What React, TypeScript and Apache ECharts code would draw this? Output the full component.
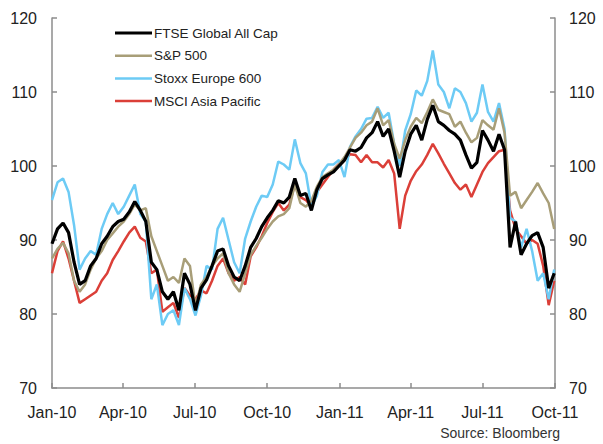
import React, { useEffect, useRef } from "react";
import * as echarts from "echarts";

const START = Date.UTC(2010, 0, 1);
const DAY = 86400000;

const tickLabels = ["Jan-10", "Apr-10", "Jul-10", "Oct-10", "Jan-11", "Apr-11", "Jul-11", "Oct-11"];
const tickDates = [
  Date.UTC(2010, 0, 1), Date.UTC(2010, 3, 1), Date.UTC(2010, 6, 1), Date.UTC(2010, 9, 1),
  Date.UTC(2011, 0, 1), Date.UTC(2011, 3, 1), Date.UTC(2011, 6, 1), Date.UTC(2011, 9, 1),
];
const tickDays = tickDates.map((t) => Math.round((t - START) / DAY));

const seriesNames = ["FTSE Global All Cap", "S&P 500", "Stoxx Europe 600", "MSCI Asia Pacific"];

const ftse = [
  89.5, 91.5, 92.3, 91, 87, 84, 84.5, 86.5, 87.5, 89.5,
  90.5, 91.8, 92.5, 92.8, 93.8, 95.2, 94, 92.5, 87, 86,
  83, 82, 83, 80.5, 85.5, 84, 80.5, 83.5, 84.6, 86.5,
  88.5, 88.8, 86.5, 85, 84.5, 86.5, 89, 90.2, 91.8, 93,
  94, 95.3, 95, 95.8, 98.3, 96, 96.3, 94, 96.8, 98.3,
  98.8, 99.2, 100, 100.8, 102.2, 102, 102.5, 103.8, 104.5, 106,
  104, 105, 102, 98.5, 102, 104.3, 105.5, 103.5, 106.3, 108.2,
  106, 105.5, 104.8, 104.3, 103.5, 101.5, 99.7, 100.5, 104.8, 103.5,
  102, 104.3, 102.2, 89, 92.5, 88, 89.5, 90.6, 91, 89,
  83.5, 85.5,
];

const sp500 = [
  87.5, 88.8, 89.6, 88.2, 84.5, 83, 84, 86, 87.5, 88.5,
  90, 90.9, 91.8, 92.5, 93.5, 94.8, 94, 94.3, 90.5, 88.5,
  86.5, 84.5, 85, 84.2, 87.5, 86.5, 81, 84, 85, 86.5,
  87.5, 88.2, 85.5, 84, 83, 85.5, 88, 89.2, 90.3, 91.5,
  92.5, 93.2, 93.5, 94.3, 97.5, 95, 94.5, 95.3, 97.2, 98.5,
  99, 99.5, 100.2, 101.2, 102.5, 103.8, 104.5, 105.5, 106, 107.8,
  105.5, 106.2, 103, 101, 103.5, 105.3, 106.5, 105.8, 107.3, 109,
  107.6, 107.3, 107, 105.3, 106, 104.5, 103.2, 103.8, 106.2, 105.5,
  104.9, 107.8, 104.5, 96, 96.5, 94.3, 95.4, 96.5, 97.7, 96.3,
  95, 91.5,
];

const stoxx = [
  95.4, 97.8, 98.3, 96.5, 92, 86, 87.5, 88.5, 88, 91.5,
  93.5, 95, 93.5, 94.5, 96, 97.5, 93.5, 92.5, 82, 84,
  78.5, 80, 80.5, 78.5, 83.5, 82, 79.8, 82.5, 86.5, 86,
  91.5, 93, 90, 87, 85.5, 90.2, 92.5, 94.5, 96, 95.8,
  97.5, 100.6, 100.2, 99.5, 103.6, 100.4, 99, 94.5, 96, 99.2,
  100.2, 100.2, 100.8, 98.5, 102.6, 104, 105, 106.4, 106.5, 108,
  106.5, 107.2, 103, 100, 104.8, 107, 110.2, 109.5, 111.5, 115.6,
  111, 110, 107.8, 110.5, 110, 108.5, 106, 107.2, 111, 107.3,
  106, 108.5, 105, 93, 92.5, 89, 91.5, 88.5, 84.5, 85.5,
  82, 86,
];

const msci = [
  85.5, 88.5, 89.8, 87.5, 84.5, 81.5, 82, 82.5, 83, 84.5,
  85.5, 87.3, 88.5, 89.8, 91, 91.8, 90.3, 89.8, 85.5, 86,
  80.3, 80.9, 81.5, 79.5, 83.5, 82.5, 82, 83.2, 82.8, 84.5,
  86.5, 87.5, 85.5, 84.5, 85, 84, 87.8, 89, 90.5, 92.3,
  93.8, 95, 94, 94.8, 97.5, 95.8, 95.4, 94.5, 96.5, 97.5,
  98.5, 99.5, 100.3, 100.8, 101.6, 101.5, 100.5, 101.5, 100.5, 100.5,
  99.8, 100.8, 99, 91.5, 96, 98, 99.3, 100.2, 101.5, 103,
  101.7, 100.3, 99, 97.7, 96.8, 97.5, 95.8, 97.5, 99.2, 100.4,
  101.2, 102, 102.2, 94, 91.5, 90.5, 89.5, 90, 89.5, 86.5,
  81.2, 84.5,
];

const colors = ["#000000", "#A89E78", "#6DCBF5", "#DB3F38"];
const widths = [3.2, 2.5, 2.5, 2.5];
const allValues = [ftse, sp500, stoxx, msci];

// weekly observations, x = days since 1 Jan 2010
const weekDays = ftse.map((_, i) => i * 7);

export default function App() {
  const ref = useRef<HTMLDivElement>(null);
  useEffect(() => {
    if (!ref.current) return;
    const chart = echarts.init(ref.current, null, { renderer: "svg" });
    const font = "'Liberation Sans', Arial, sans-serif";
    const axisColor = "#8c8c8c";
    const yAxisBase: any = {
      type: "value",
      min: 70,
      max: 120,
      interval: 10,
      splitLine: { show: false },
      axisLine: { show: true, lineStyle: { color: axisColor, width: 1.5 } },
      axisTick: { show: true, inside: true, length: 5, lineStyle: { color: axisColor, width: 1.5 } },
      axisLabel: { color: "#222", fontSize: 16, fontFamily: font, margin: 15 },
    };
    chart.setOption({
      animation: false,
      grid: { left: 52, right: 48, top: 18, bottom: 56, containLabel: false },
      legend: {
        data: seriesNames.map((name, k) => ({
          name,
          icon: k === 0 ? "path://M0,0H370V32H0Z" : "path://M0,0H370V25H0Z",
          itemStyle: { color: colors[k] },
        })),
        orient: "vertical",
        left: 110,
        top: 21,
        itemWidth: 37,
        itemHeight: 14,
        itemGap: 8.7,
        textStyle: { color: "#222", fontSize: 13.5, fontFamily: font, padding: [0, 0, 0, -3] },
      },
      xAxis: {
        type: "value",
        min: tickDays[0],
        max: tickDays[tickDays.length - 1],
        splitLine: { show: false },
        axisLine: { show: true, onZero: false, lineStyle: { color: axisColor, width: 1.5 } },
        axisTick: { show: true, inside: true, length: 5, customValues: tickDays, lineStyle: { color: axisColor, width: 1.5 } },
        axisLabel: {
          color: "#222",
          fontSize: 16,
          fontFamily: font,
          margin: 16,
          customValues: tickDays,
          formatter: (v: number) => {
            const idx = tickDays.indexOf(Math.round(v));
            return idx >= 0 ? tickLabels[idx] : "";
          },
          showMinLabel: true,
          showMaxLabel: true,
        },
      },
      yAxis: [
        { ...yAxisBase, position: "left" },
        { ...yAxisBase, position: "right", axisLabel: { ...yAxisBase.axisLabel, margin: 14 } },
      ],
      series: seriesNames.map((name, k) => ({
        name,
        type: "line",
        yAxisIndex: 0,
        symbol: "none",
        showSymbol: false,
        z: 10 - k,
        data: allValues[k].map((v, i) => [weekDays[i], v]),
        lineStyle: { color: colors[k], width: widths[k] },
        itemStyle: { color: colors[k] },
      })),
      graphic: [
        {
          type: "text",
          right: 43,
          top: 426,
          style: { text: "Source: Bloomberg", fill: "#333", fontSize: 14, fontFamily: font },
        },
      ],
    });
    return () => chart.dispose();
  }, []);
  return <div ref={ref} style={{ width: 603, height: 444, position: "absolute", left: 0, top: 0 }} />;
}
